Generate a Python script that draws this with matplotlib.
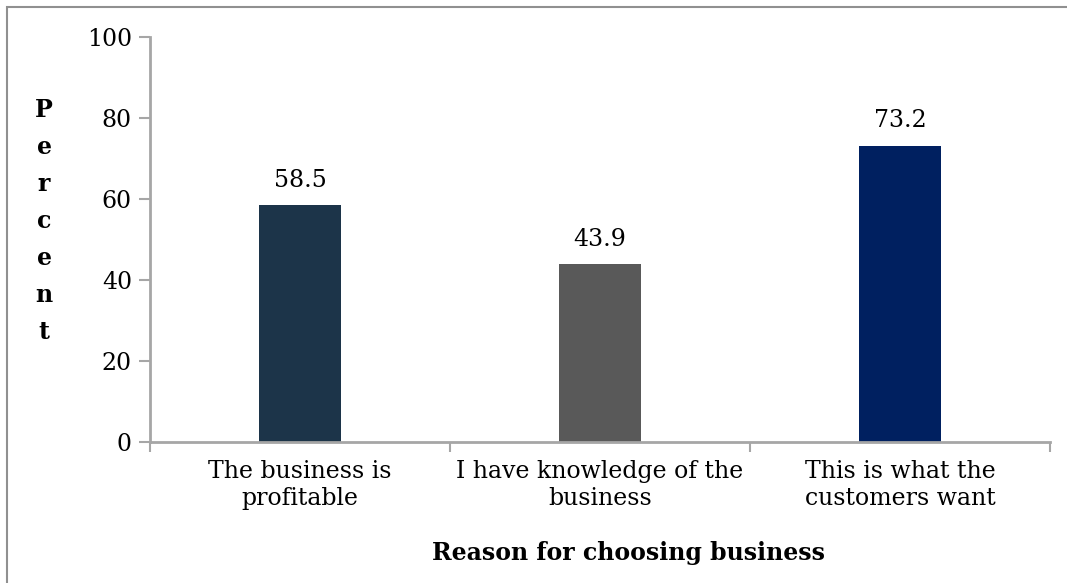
import matplotlib.pyplot as plt
from matplotlib.patches import Rectangle

# data
categories = ["The business is\nprofitable",
              "I have knowledge of the\nbusiness",
              "This is what the\ncustomers want"]
values = [58.5, 43.9, 73.2]
bar_colors = ["#1c3449", "#595959", "#002060"]
y_ticks = [0, 20, 40, 60, 80, 100]

plt.rcParams['font.family'] = ['DejaVu Serif']
grey = "#a6a6a6"
fs = 17

fig = plt.figure(figsize=(10.67, 5.83), dpi=100)
ax = fig.add_axes([150 / 1067, 1 - 442 / 583, 900 / 1067, 405 / 583])

x = range(len(values))
bars = ax.bar(x, values, width=0.273, color=bar_colors)
for b, v in zip(bars, values):
    ax.text(b.get_x() + b.get_width() / 2, v + 3.3, f"{v:.1f}",
            ha='center', va='bottom', fontsize=fs)

ax.set_xlim(-0.5, 2.5)
ax.set_ylim(0, 100)
ax.set_yticks(y_ticks)
ax.set_xticks(list(x))
ax.set_xticklabels(categories, fontsize=fs, linespacing=1.2)
ax.set_xticks([-0.5, 0.5, 1.5, 2.5], minor=True)
ax.tick_params(axis='x', which='major', length=0, pad=13)
ax.tick_params(axis='x', which='minor', length=7, width=1.5, color=grey)
ax.tick_params(axis='y', labelsize=fs, length=8, width=1.5, color=grey, pad=5)

for s in ['top', 'right']:
    ax.spines[s].set_visible(False)
for s in ['left', 'bottom']:
    ax.spines[s].set_color(grey)
    ax.spines[s].set_linewidth(2)

# axis titles
fig.text(628 / 1067, 1 - 553 / 583, "Reason for choosing business",
         ha='center', va='center', fontsize=fs, fontweight='bold')
fig.text(44 / 1067, 1 - 221 / 583, "\n".join("Percent"),
         ha='center', va='center', fontsize=fs, fontweight='bold',
         linespacing=1.68)

# outer frame
fig.patches.append(Rectangle((7 / 1067, -0.05), 1.1, 1 - 7.5 / 583 + 0.05,
                             transform=fig.transFigure, fill=False,
                             edgecolor="#909090", linewidth=1.5))

fig.savefig("out.png", dpi=100)
